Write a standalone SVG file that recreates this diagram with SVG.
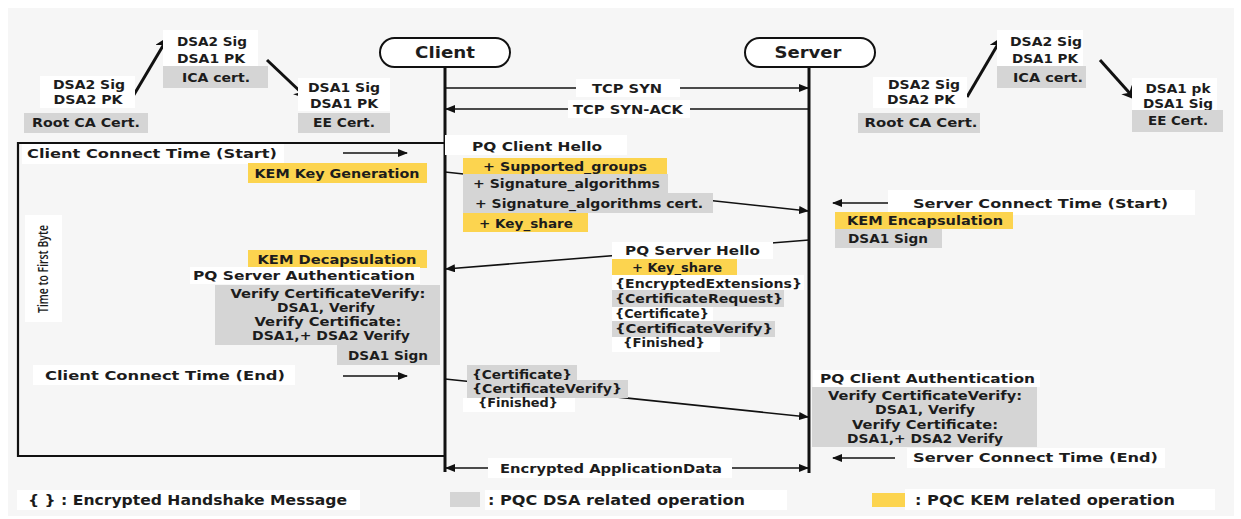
<svg xmlns="http://www.w3.org/2000/svg" width="1241" height="519" viewBox="0 0 1241 519">
<defs>
<style>
.t{font-family:"DejaVu Sans","Liberation Sans",sans-serif;font-weight:bold;font-size:13px;fill:#1c1c1c}
.c{text-anchor:middle}
.w{fill:#ffffff}
.g{fill:#d5d5d5}
.y{fill:#fcd44f}
.ln{stroke:#111;stroke-width:1.6;fill:none}
.th{stroke:#111;stroke-width:3;fill:none}
.life{stroke:#111;stroke-width:3}
.pill{fill:#fff;stroke:#111;stroke-width:2}
</style>
<marker id="ah" viewBox="0 0 10 8" refX="9" refY="4" markerWidth="10" markerHeight="8" markerUnits="userSpaceOnUse" orient="auto-start-reverse">
<path d="M0,0 L10,4 L0,8 z" fill="#111"/>
</marker>
<marker id="ahb" viewBox="0 0 10 10" refX="8" refY="5" markerWidth="14" markerHeight="14" markerUnits="userSpaceOnUse" orient="auto">
<path d="M0,0 L10,5 L0,10 L3,5 z" fill="#111"/>
</marker>
</defs>
<rect width="1241" height="519" fill="#ffffff"/>
<rect x="8" y="8" width="1226" height="508" fill="#f6f6f6"/>

<g id="connectors">
<line class="life" x1="445" y1="67" x2="445" y2="472"/>
<line class="life" x1="809" y1="67" x2="809" y2="473"/>
<path d="M445,143 H18 V456 H445" stroke="#111" stroke-width="2.2" fill="none"/>
<line class="th" x1="132" y1="98" x2="167" y2="39" marker-end="url(#ahb)"/>
<line class="th" x1="267" y1="60" x2="306" y2="97" marker-end="url(#ahb)"/>
<line class="th" x1="967" y1="97" x2="1001" y2="39" marker-end="url(#ahb)"/>
<line class="th" x1="1100" y1="60" x2="1134" y2="98" marker-end="url(#ahb)"/>
<line class="ln" x1="445" y1="88" x2="808" y2="88" marker-end="url(#ah)"/>
<rect class="w" x="576" y="79" width="104" height="18"/>
<text class="t c" x="627" y="93" textLength="70" lengthAdjust="spacingAndGlyphs">TCP SYN</text>
<line class="ln" x1="809" y1="109" x2="446" y2="109" marker-end="url(#ah)"/>
<rect class="w" x="568" y="100" width="122" height="18"/>
<text class="t c" x="628" y="114" textLength="110" lengthAdjust="spacingAndGlyphs">TCP SYN-ACK</text>
<line class="ln" x1="445" y1="172" x2="808" y2="211" marker-end="url(#ah)"/>
<line class="ln" x1="809" y1="240" x2="446" y2="269" marker-end="url(#ah)"/>
<line class="ln" x1="445" y1="379" x2="808" y2="417" marker-end="url(#ah)"/>
<line class="ln" x1="446" y1="468" x2="808" y2="468" marker-start="url(#ah)" marker-end="url(#ah)"/>
<rect class="w" x="488" y="458" width="244" height="20"/>
<text class="t c" x="611" y="473" textLength="222" lengthAdjust="spacingAndGlyphs">Encrypted ApplicationData</text>
<line class="ln" x1="343" y1="153" x2="407" y2="153" marker-end="url(#ah)"/>
<line class="ln" x1="343" y1="376" x2="407" y2="376" marker-end="url(#ah)"/>
<line class="ln" x1="895" y1="203" x2="833" y2="203" marker-end="url(#ah)"/>
<line class="ln" x1="895" y1="458" x2="833" y2="458" marker-end="url(#ah)"/>
</g>

<g id="client">
<rect class="pill" x="380" y="38" width="130" height="29" rx="14.5"/>
<text class="t c" x="445" y="58" style="font-size:15px" textLength="60" lengthAdjust="spacingAndGlyphs">Client</text>
</g>
<g id="server">
<rect class="pill" x="745" y="38" width="130" height="29" rx="14.5"/>
<text class="t c" x="808" y="58" style="font-size:15px" textLength="67" lengthAdjust="spacingAndGlyphs">Server</text>
</g>

<g id="left-root-ca">
<rect class="w" x="40" y="76" width="95" height="32"/>
<text class="t c" x="89" y="89" textLength="72" lengthAdjust="spacingAndGlyphs">DSA2 Sig</text>
<text class="t c" x="88" y="104" textLength="69" lengthAdjust="spacingAndGlyphs">DSA2 PK</text>
<rect class="g" x="24" y="113" width="124" height="20"/>
<text class="t c" x="86" y="127" textLength="108" lengthAdjust="spacingAndGlyphs">Root CA Cert.</text>
</g>
<g id="left-ica">
<rect class="w" x="163" y="30" width="95" height="36"/>
<text class="t c" x="212" y="46" textLength="70" lengthAdjust="spacingAndGlyphs">DSA2 Sig</text>
<text class="t c" x="211" y="63" textLength="68" lengthAdjust="spacingAndGlyphs">DSA1 PK</text>
<rect class="g" x="163" y="66" width="105" height="22"/>
<text class="t c" x="216" y="82" textLength="68" lengthAdjust="spacingAndGlyphs">ICA cert.</text>
</g>
<g id="left-ee">
<rect class="w" x="298" y="78" width="92" height="33"/>
<text class="t c" x="344" y="92" textLength="72" lengthAdjust="spacingAndGlyphs">DSA1 Sig</text>
<text class="t c" x="344" y="108" textLength="68" lengthAdjust="spacingAndGlyphs">DSA1 PK</text>
<rect class="g" x="298" y="113" width="92" height="20"/>
<text class="t c" x="344" y="127" textLength="62" lengthAdjust="spacingAndGlyphs">EE Cert.</text>
</g>

<g id="right-root-ca">
<rect class="w" x="873" y="77" width="94" height="31"/>
<text class="t c" x="924" y="89" textLength="72" lengthAdjust="spacingAndGlyphs">DSA2 Sig</text>
<text class="t c" x="921" y="104" textLength="68" lengthAdjust="spacingAndGlyphs">DSA2 PK</text>
<rect class="g" x="858" y="113" width="122" height="20"/>
<text class="t c" x="921" y="127" textLength="113" lengthAdjust="spacingAndGlyphs">Root CA Cert.</text>
</g>
<g id="right-ica">
<rect class="w" x="997" y="30" width="86" height="36"/>
<text class="t c" x="1046" y="46" textLength="72" lengthAdjust="spacingAndGlyphs">DSA2 Sig</text>
<text class="t c" x="1045" y="63" textLength="66" lengthAdjust="spacingAndGlyphs">DSA1 PK</text>
<rect class="g" x="997" y="66" width="89" height="22"/>
<text class="t c" x="1048" y="82" textLength="70" lengthAdjust="spacingAndGlyphs">ICA cert.</text>
</g>
<g id="right-ee">
<rect class="w" x="1132" y="78" width="85" height="32"/>
<text class="t c" x="1178" y="93" textLength="65" lengthAdjust="spacingAndGlyphs">DSA1 pk</text>
<text class="t c" x="1178" y="108" textLength="70" lengthAdjust="spacingAndGlyphs">DSA1 Sig</text>
<rect class="g" x="1132" y="110" width="91" height="22"/>
<text class="t c" x="1178" y="125" textLength="60" lengthAdjust="spacingAndGlyphs">EE Cert.</text>
</g>

<g id="client-connect-start">
<rect class="w" x="22" y="144" width="262" height="20"/>
<text class="t" x="27" y="158" textLength="250" lengthAdjust="spacingAndGlyphs">Client Connect Time (Start)</text>
</g>
<g id="kem-keygen">
<rect class="y" x="248" y="163" width="179" height="20"/>
<text class="t c" x="337" y="178" textLength="165" lengthAdjust="spacingAndGlyphs">KEM Key Generation</text>
</g>
<g id="ttfb">
<rect class="w" x="25" y="215" width="37" height="107"/>
<text x="48" y="269" transform="rotate(-90 48 269)" text-anchor="middle" textLength="88" lengthAdjust="spacingAndGlyphs" style="font-family:'Open Sans','Liberation Sans',sans-serif;font-size:14px;font-weight:600;fill:#1c1c1c">Time to First Byte</text>
</g>
<g id="kem-decap">
<rect class="y" x="248" y="250" width="179" height="18"/>
<text class="t c" x="337" y="264" textLength="159" lengthAdjust="spacingAndGlyphs">KEM Decapsulation</text>
</g>
<g id="pq-server-auth">
<rect class="w" x="190" y="267" width="230" height="17"/>
<text class="t" x="193" y="280" textLength="222" lengthAdjust="spacingAndGlyphs">PQ Server Authentication</text>
<rect class="g" x="215" y="285" width="225" height="60"/>
<text class="t c" x="328" y="298" style="font-size:12.5px" textLength="195" lengthAdjust="spacingAndGlyphs">Verify CertificateVerify:</text>
<text class="t c" x="326" y="312" style="font-size:12.5px" textLength="98" lengthAdjust="spacingAndGlyphs">DSA1, Verify</text>
<text class="t c" x="328" y="326" style="font-size:12.5px" textLength="147" lengthAdjust="spacingAndGlyphs">Verify Certificate:</text>
<text class="t c" x="331" y="340" style="font-size:12.5px" textLength="158" lengthAdjust="spacingAndGlyphs">DSA1,+ DSA2 Verify</text>
</g>
<g id="client-dsa-sign">
<rect class="g" x="337" y="345" width="103" height="20"/>
<text class="t c" x="388" y="360" textLength="80" lengthAdjust="spacingAndGlyphs">DSA1 Sign</text>
</g>
<g id="client-connect-end">
<rect class="w" x="33" y="365" width="262" height="20"/>
<text class="t" x="45" y="380" textLength="240" lengthAdjust="spacingAndGlyphs">Client Connect Time (End)</text>
</g>

<g id="pq-client-hello">
<rect class="w" x="445" y="135" width="182" height="20"/>
<text class="t" x="472" y="151" textLength="130" lengthAdjust="spacingAndGlyphs">PQ Client Hello</text>
<rect class="y" x="463" y="158" width="204" height="16"/>
<text class="t" x="483" y="171" textLength="164" lengthAdjust="spacingAndGlyphs">+ Supported_groups</text>
<rect class="g" x="463" y="174" width="205" height="19"/>
<text class="t" x="473" y="188" textLength="187" lengthAdjust="spacingAndGlyphs">+ Signature_algorithms</text>
<rect class="g" x="463" y="193" width="250" height="20"/>
<text class="t" x="475" y="208" textLength="228" lengthAdjust="spacingAndGlyphs">+ Signature_algorithms cert.</text>
<rect class="y" x="463" y="213" width="125" height="19"/>
<text class="t" x="479" y="228" textLength="94" lengthAdjust="spacingAndGlyphs">+ Key_share</text>
</g>

<g id="pq-server-hello">
<rect class="w" x="612" y="242" width="161" height="17"/>
<text class="t" x="625" y="255" textLength="135" lengthAdjust="spacingAndGlyphs">PQ Server Hello</text>
<rect class="y" x="612" y="259" width="125" height="16"/>
<text class="t" x="632" y="272" textLength="90" lengthAdjust="spacingAndGlyphs">+ Key_share</text>
<rect class="w" x="612" y="275" width="192" height="15"/>
<text class="t" x="615" y="288" textLength="187" lengthAdjust="spacingAndGlyphs">{EncryptedExtensions}</text>
<rect class="g" x="612" y="290" width="172" height="17"/>
<text class="t" x="615" y="303" textLength="168" lengthAdjust="spacingAndGlyphs">{CertificateRequest}</text>
<rect class="w" x="612" y="307" width="101" height="14"/>
<text class="t" x="615" y="318" textLength="94" lengthAdjust="spacingAndGlyphs">{Certificate}</text>
<rect class="g" x="612" y="321" width="163" height="16"/>
<text class="t" x="615" y="333" textLength="158" lengthAdjust="spacingAndGlyphs">{CertificateVerify}</text>
<rect class="w" x="612" y="337" width="108" height="15"/>
<text class="t" x="623" y="347" textLength="82" lengthAdjust="spacingAndGlyphs">{Finished}</text>
</g>

<g id="client-finished">
<rect class="g" x="467" y="365" width="110" height="15"/>
<text class="t" x="472" y="379" textLength="100" lengthAdjust="spacingAndGlyphs">{Certificate}</text>
<rect class="g" x="467" y="380" width="161" height="18"/>
<text class="t" x="472" y="393" textLength="150" lengthAdjust="spacingAndGlyphs">{CertificateVerify}</text>
<rect class="w" x="463" y="398" width="112" height="14"/>
<text class="t" x="478" y="407" textLength="80" lengthAdjust="spacingAndGlyphs">{Finished}</text>
</g>

<g id="server-connect-start">
<rect class="w" x="888" y="190" width="307" height="25"/>
<text class="t" x="913" y="208" textLength="255" lengthAdjust="spacingAndGlyphs">Server Connect Time (Start)</text>
</g>
<g id="kem-encap">
<rect class="y" x="835" y="212" width="178" height="17"/>
<text class="t" x="847" y="225" textLength="156" lengthAdjust="spacingAndGlyphs">KEM Encapsulation</text>
</g>
<g id="server-dsa-sign">
<rect class="g" x="835" y="229" width="107" height="19"/>
<text class="t" x="848" y="243" textLength="80" lengthAdjust="spacingAndGlyphs">DSA1 Sign</text>
</g>
<g id="pq-client-auth">
<rect class="w" x="813" y="370" width="227" height="17"/>
<text class="t" x="820" y="383" textLength="215" lengthAdjust="spacingAndGlyphs">PQ Client Authentication</text>
<rect class="g" x="812" y="387" width="225" height="60"/>
<text class="t c" x="925" y="400" style="font-size:12.5px" textLength="194" lengthAdjust="spacingAndGlyphs">Verify CertificateVerify:</text>
<text class="t c" x="925" y="414" style="font-size:12.5px" textLength="100" lengthAdjust="spacingAndGlyphs">DSA1, Verify</text>
<text class="t c" x="925" y="429" style="font-size:12.5px" textLength="146" lengthAdjust="spacingAndGlyphs">Verify Certificate:</text>
<text class="t c" x="925" y="443" style="font-size:12.5px" textLength="156" lengthAdjust="spacingAndGlyphs">DSA1,+ DSA2 Verify</text>
</g>
<g id="server-connect-end">
<rect class="w" x="907" y="448" width="258" height="20"/>
<text class="t" x="913" y="462" textLength="245" lengthAdjust="spacingAndGlyphs">Server Connect Time (End)</text>
</g>

<g id="legend">
<rect class="w" x="17" y="490" width="343" height="20"/>
<text class="t" x="28" y="505" style="font-size:14px" textLength="319" lengthAdjust="spacingAndGlyphs">{ } : Encrypted Handshake Message</text>
<rect class="g" x="450" y="492" width="30" height="15"/>
<rect class="w" x="485" y="490" width="302" height="20"/>
<text class="t" x="488" y="505" style="font-size:14px" textLength="257" lengthAdjust="spacingAndGlyphs">: PQC DSA related operation</text>
<rect class="y" x="872" y="493" width="33" height="14"/>
<rect class="w" x="905" y="489" width="310" height="21"/>
<text class="t" x="915" y="505" style="font-size:14px" textLength="260" lengthAdjust="spacingAndGlyphs">: PQC KEM related operation</text>
</g>
</svg>
